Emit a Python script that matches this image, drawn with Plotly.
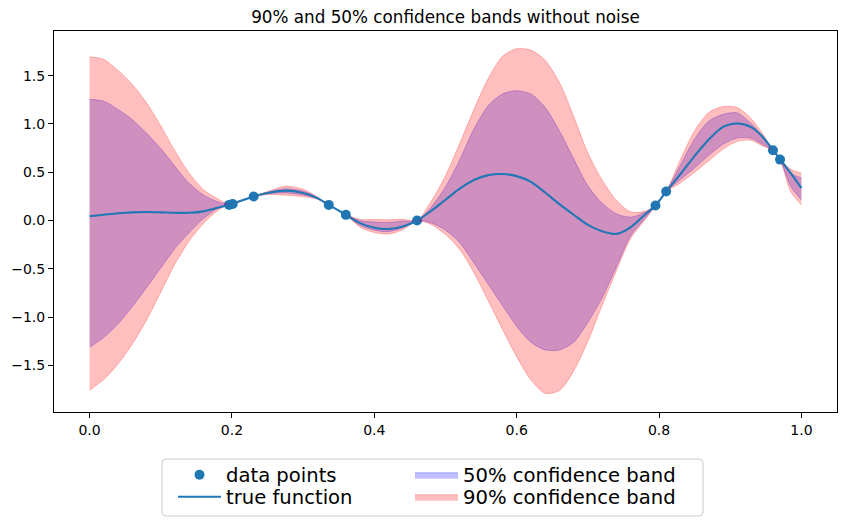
import plotly.graph_objects as go

# ---- data ----
X_GRID = [0.0, 0.02, 0.04, 0.06, 0.08, 0.10, 0.12, 0.14, 0.16, 0.18, 0.195, 0.2, 0.215, 0.23,
          0.25, 0.275, 0.30, 0.32, 0.336, 0.36, 0.38, 0.40, 0.42, 0.44, 0.46,
          0.48, 0.50, 0.52, 0.54, 0.56, 0.58, 0.60, 0.62, 0.64, 0.66, 0.68, 0.70, 0.72,
          0.74, 0.76, 0.78, 0.795, 0.81, 0.83, 0.85, 0.87, 0.89, 0.91, 0.93, 0.945,
          0.96, 0.97, 0.985, 1.0]

TRUE_FN = [0.045, 0.06, 0.075, 0.085, 0.088, 0.085, 0.08, 0.08, 0.095, 0.132, 0.162, 0.172, 0.21, 0.249,
           0.285, 0.31, 0.285, 0.232, 0.162, 0.06, -0.027, -0.075, -0.088, -0.062, 0.0,
           0.10, 0.215, 0.33, 0.42, 0.47, 0.482, 0.46, 0.40, 0.29, 0.17, 0.06, -0.045, -0.11,
           -0.138, -0.07, 0.06, 0.155, 0.30, 0.48, 0.67, 0.84, 0.97, 1.005, 0.965, 0.87,
           0.73, 0.635, 0.49, 0.335]

UPPER_90 = [1.696, 1.668, 1.555, 1.41, 1.22, 0.98, 0.72, 0.49, 0.32, 0.225, 0.168, 0.176, 0.216, 0.25,
            0.30, 0.355, 0.325, 0.245, 0.163, 0.062, 0.012, 0.01, 0.008, 0.012, 0.002,
            0.20, 0.465, 0.80, 1.15, 1.47, 1.70, 1.78, 1.765, 1.66, 1.43, 1.08, 0.70, 0.42,
            0.21, 0.09, 0.095, 0.157, 0.302, 0.63, 0.93, 1.12, 1.18, 1.17, 1.05, 0.905,
            0.732, 0.637, 0.53, 0.49]

UPPER_50 = [1.255, 1.235, 1.15, 1.045, 0.905, 0.745, 0.56, 0.385, 0.265, 0.195, 0.165, 0.174, 0.213, 0.25,
            0.293, 0.33, 0.305, 0.24, 0.162, 0.061, 0.0, -0.015, -0.02, -0.005, 0.001,
            0.14, 0.35, 0.63, 0.95, 1.19, 1.31, 1.345, 1.31, 1.17, 0.93, 0.64, 0.36, 0.18,
            0.07, 0.035, 0.085, 0.156, 0.301, 0.575, 0.845, 1.03, 1.10, 1.115, 1.0, 0.88,
            0.731, 0.636, 0.49, 0.44]

LOWER_50 = [-1.313, -1.21, -1.07, -0.89, -0.695, -0.49, -0.29, -0.125, 0.02, 0.125, 0.161, 0.171, 0.208, 0.248,
            0.277, 0.285, 0.265, 0.226, 0.161, 0.059, -0.05, -0.10, -0.115, -0.075, -0.001,
            -0.025, -0.10, -0.23, -0.44, -0.66, -0.88, -1.095, -1.26, -1.34, -1.34, -1.26, -1.055, -0.80,
            -0.48, -0.16, 0.02, 0.154, 0.299, 0.425, 0.545, 0.675, 0.79, 0.855, 0.85, 0.79,
            0.729, 0.634, 0.355, 0.214]

LOWER_90 = [-1.758, -1.645, -1.485, -1.28, -1.03, -0.74, -0.45, -0.21, -0.03, 0.105, 0.16, 0.169, 0.205, 0.247,
            0.27, 0.262, 0.248, 0.221, 0.16, 0.058, -0.068, -0.125, -0.14, -0.095, -0.002,
            -0.04, -0.145, -0.30, -0.54, -0.83, -1.125, -1.41, -1.65, -1.79, -1.76, -1.56, -1.25, -0.88,
            -0.52, -0.185, 0.005, 0.153, 0.298, 0.39, 0.50, 0.62, 0.74, 0.82, 0.83, 0.775,
            0.728, 0.633, 0.30, 0.162]

DATA_X = [0.196, 0.201, 0.2305, 0.336, 0.36, 0.46, 0.795, 0.81, 0.96, 0.97]
DATA_Y = [0.162, 0.172, 0.249, 0.162, 0.059, 0.0, 0.155, 0.30, 0.728, 0.631]

X_TICKS = [0.0, 0.2, 0.4, 0.6, 0.8, 1.0]
Y_TICKS = [-1.5, -1.0, -0.5, 0.0, 0.5, 1.0, 1.5]

TITLE = "90% and 50% confidence bands without noise"
NAMES = ["data points", "true function", "50% confidence band", "90% confidence band"]

# ---- styling ----
FONT = "DejaVu Sans"
C0 = "#1f77b4"
BLUE_A = "rgba(0,0,255,0.25)"
RED_A = "rgba(255,0,0,0.25)"

fig = go.Figure()

fig.add_trace(go.Scatter(
    x=DATA_X, y=DATA_Y, mode="markers", name=NAMES[0],
    marker=dict(color=C0, size=10, line=dict(width=0)),
    legend="legend"))

fig.add_trace(go.Scatter(
    x=X_GRID, y=LOWER_50, mode="lines", showlegend=False, hoverinfo="skip",
    line=dict(color=BLUE_A, width=1, shape="spline", smoothing=0.8)))
fig.add_trace(go.Scatter(
    x=X_GRID, y=UPPER_50, mode="lines", name=NAMES[2], fill="tonexty", fillcolor=BLUE_A,
    line=dict(color=BLUE_A, width=1, shape="spline", smoothing=0.8),
    legend="legend3"))

fig.add_trace(go.Scatter(
    x=X_GRID, y=LOWER_90, mode="lines", showlegend=False, hoverinfo="skip",
    line=dict(color=RED_A, width=1, shape="spline", smoothing=0.8)))
fig.add_trace(go.Scatter(
    x=X_GRID, y=UPPER_90, mode="lines", name=NAMES[3], fill="tonexty", fillcolor=RED_A,
    line=dict(color=RED_A, width=1, shape="spline", smoothing=0.8),
    legend="legend4"))

fig.add_trace(go.Scatter(
    x=X_GRID, y=TRUE_FN, mode="lines", name=NAMES[1],
    line=dict(color=C0, width=2.1, shape="spline", smoothing=0.8),
    legend="legend2"))

axis_common = dict(
    showline=True, mirror=True, linecolor="black", linewidth=1,
    ticks="outside", ticklen=5, tickwidth=1, tickcolor="black",
    showgrid=False, zeroline=False, tickformat=".1f",
    tickfont=dict(family=FONT, size=14, color="black"),
)

# The page has an 8px body margin, so the figure starts at page pixel (8, 8).
OFF = 8.0
FIG_W, FIG_H = 847 - 8, 526 - 8
# plot area in page pixels: x 54..837, y 31..412
PL, PR, PT, PB = 54.0, 837.0, 31.0, 412.0
PW, PH = PR - PL, PB - PT

def px(xpix):
    return (xpix - PL) / PW

def py(ypix):
    return (PB - ypix) / PH

leg_common = dict(
    bgcolor="rgba(0,0,0,0)", borderwidth=0, xanchor="left", yanchor="middle",
    font=dict(family=FONT, size=19.6, color="black"), itemwidth=43,
)

# rounded legend frame (page pixels 162..703 x 459..516)
x0, x1 = px(162), px(703)
y0, y1 = py(516), py(459)
rx, ry = 4 / PW, 4 / PH
frame = (f"M {x0+rx},{y1} L {x1-rx},{y1} Q {x1},{y1} {x1},{y1-ry} "
         f"L {x1},{y0+ry} Q {x1},{y0} {x1-rx},{y0} L {x0+rx},{y0} "
         f"Q {x0},{y0} {x0},{y0+ry} L {x0},{y1-ry} Q {x0},{y1} {x0+rx},{y1} Z")

fig.update_layout(
    width=FIG_W, height=FIG_H,
    margin=dict(l=PL - OFF, r=847 - PR, t=PT - OFF, b=526 - PB, autoexpand=False),
    paper_bgcolor="white", plot_bgcolor="white",
    font=dict(family=FONT, color="black"),
    title=dict(text=TITLE, x=0.5, xref="paper", xanchor="center",
               y=1 - (17.5 - OFF) / FIG_H, yref="container", yanchor="middle",
               font=dict(family=FONT, size=16.8, color="black")),
    xaxis=dict(range=[-0.05, 1.05], tickvals=X_TICKS, **axis_common),
    yaxis=dict(range=[-1.983, 1.963], tickvals=Y_TICKS, **axis_common),
    legend=dict(x=px(173), y=py(475), **leg_common),
    legend2=dict(x=px(173), y=py(497), **leg_common),
    legend3=dict(x=px(410), y=py(475), **leg_common),
    legend4=dict(x=px(410), y=py(497), **leg_common),
    shapes=[dict(type="path", path=frame, xref="paper", yref="paper",
                 line=dict(color="#cccccc", width=1),
                 fillcolor="rgba(255,255,255,0.8)", layer="below")],
    hovermode=False,
)

fig.write_html("out.html")
